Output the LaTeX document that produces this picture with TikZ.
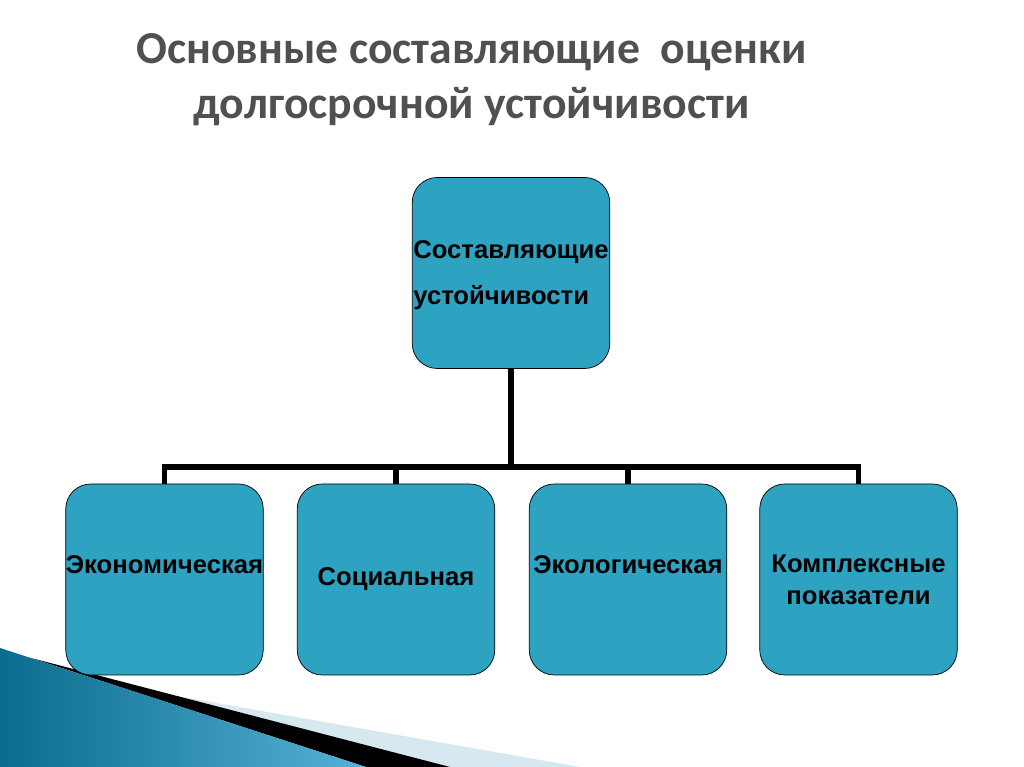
\documentclass[tikz,border=0pt]{standalone}
\usepackage{fontspec}
\setmainfont{Liberation Sans}
\newfontfamily\titlefont{Carlito}
\usetikzlibrary{shapes, calc}
\definecolor{boxblue}{RGB}{45,162,193}
\definecolor{titlegray}{RGB}{80,80,80}
\definecolor{decodark}{RGB}{10,108,142}
\definecolor{decolight}{RGB}{85,178,214}
\definecolor{decopale}{RGB}{214,232,240}
\tikzset{
  partbox/.style = {rectangle, rounded corners=0.5cm, draw=black, fill=boxblue, minimum width=3.95cm, minimum height=3.82cm, inner sep=0pt},
  parttext/.style = {align=center, inner sep=0pt, font=\bfseries\fontsize{14.6}{18}\selectfont},
  link/.style = {draw=black, line width=3pt},
  headline/.style = {align=center, text=titlegray, font=\titlefont\bfseries\fontsize{26}{31}\selectfont}
}
\begin{document}
\begin{tikzpicture}
    \useasboundingbox (0,0) rectangle (20.48,15.34);
    % corner decoration
    \fill[decopale] (0.8,1.9) -- (11.6,0) -- (9.0,0) -- cycle;
    \fill[black] (0.62,2.18) -- (9.0,0) -- (7.32,0) -- cycle;
    \shade[left color=decodark, right color=decolight] (0,2.38) -- (7.32,0) -- (0,0) -- cycle;
    % title
    \node[headline] (title) at (9.43,13.75) {Основные составляющие \ оценки\\долгосрочной устойчивости};
    % boxes
    \node[partbox] (top) at (10.22,9.88) {};
    \node[partbox] (econ) at (3.29,3.75) {};
    \node[partbox] (soc) at (7.92,3.75) {};
    \node[partbox] (eco) at (12.56,3.75) {};
    \node[partbox] (compl) at (17.17,3.75) {};
    \node[parttext, align=left, font=\bfseries\fontsize{14.6}{26}\selectfont] (toptext) at ([yshift=-0.05cm]top.center) {Составляющие\\ устойчивости};
    \node[parttext] (econtext) at ([yshift=0.3cm]econ.center) {Экономическая};
    \node[parttext] (soctext) at (soc.center) {Социальная};
    \node[parttext] (ecotext) at ([yshift=0.3cm]eco.center) {Экологическая};
    \node[parttext] (compltext) at (compl.center) {Комплексные\\показатели};
    % connectors
    \coordinate (bus) at (10.22,6.0);
    \draw[link] (top.south) -- (bus);
    \draw[link] (econ.north) |- (bus);
    \draw[link] (soc.north) |- (bus);
    \draw[link] (eco.north) |- (bus);
    \draw[link] (compl.north) |- (bus);
\end{tikzpicture}
\end{document}
